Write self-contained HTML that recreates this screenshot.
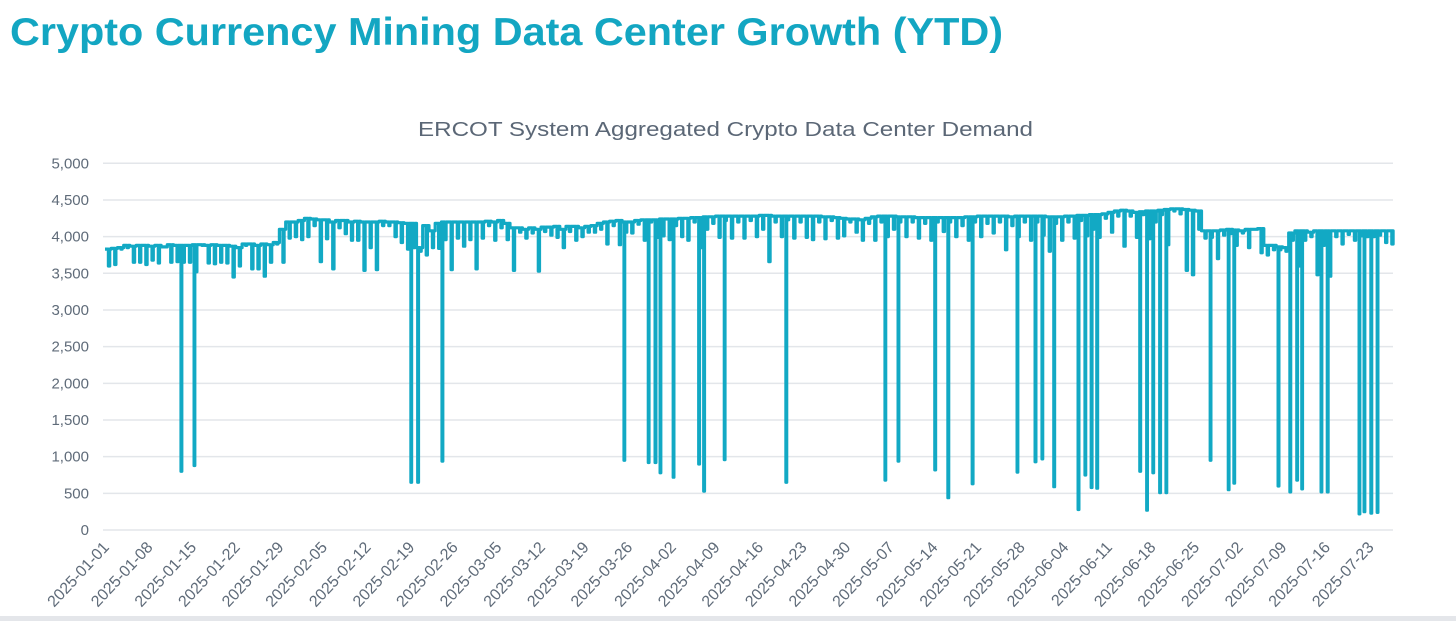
<!DOCTYPE html>
<html><head><meta charset="utf-8"><style>
html,body{margin:0;padding:0;background:#fff;}
svg{display:block;}
text{font-family:"Liberation Sans",Arial,sans-serif;}
</style></head><body>
<svg id="chart" width="1456" height="621" viewBox="0 0 1456 621" xmlns="http://www.w3.org/2000/svg">
<text x="10" y="45" font-size="39" font-weight="bold" fill="#13a6c2" textLength="993" lengthAdjust="spacingAndGlyphs">Crypto Currency Mining Data Center Growth (YTD)</text>
<text x="418" y="136" font-size="20" fill="#5b6776" textLength="615" lengthAdjust="spacingAndGlyphs">ERCOT System Aggregated Crypto Data Center Demand</text>
<g id="grid"></g>
<g id="yaxis"></g>
<g id="xaxis"></g>
<g id="series"></g>
<rect x="0" y="616" width="1456" height="5" fill="#e4e6ea"/>
</svg>
<script>
const yTicks=[0,500,1000,1500,2000,2500,3000,3500,4000,4500,5000];
const yTickLabels=["0","500","1,000","1,500","2,000","2,500","3,000","3,500","4,000","4,500","5,000"];
const xTickLabels=["2025-01-01","2025-01-08","2025-01-15","2025-01-22","2025-01-29","2025-02-05","2025-02-12","2025-02-19","2025-02-26","2025-03-05","2025-03-12","2025-03-19","2025-03-26","2025-04-02","2025-04-09","2025-04-16","2025-04-23","2025-04-30","2025-05-07","2025-05-14","2025-05-21","2025-05-28","2025-06-04","2025-06-11","2025-06-18","2025-06-25","2025-07-02","2025-07-09","2025-07-16","2025-07-23"];
const dailyHigh=[3830,3840,3850,3880,3870,3880,3880,3870,3880,3860,3890,3880,3880,3880,3890,3890,3880,3890,3880,3880,3870,3850,3900,3900,3880,3900,3890,3920,
4100,4200,4200,4220,4250,4240,4230,4230,4200,4220,4220,4200,4210,4200,4200,4200,4210,4200,4200,4190,4180,4180,3850,4150,4080,4180,4200,4200,
4200,4200,4200,4200,4200,4210,4200,4220,4180,4120,4120,4100,4120,4100,4130,4130,4140,4100,4140,4140,4120,4140,4150,4180,4200,4210,4220,4200,
4200,4220,4230,4230,4230,4240,4240,4240,4250,4250,4260,4260,4270,4270,4280,4280,4280,4280,4280,4280,4280,4290,4290,4280,4280,4280,4280,4280,
4280,4280,4280,4270,4270,4260,4250,4240,4240,4230,4250,4270,4280,4280,4280,4270,4270,4270,4260,4260,4260,4260,4260,4260,4260,4260,4270,4270,
4280,4280,4280,4280,4280,4270,4280,4280,4280,4280,4280,4270,4270,4270,4280,4280,4290,4290,4300,4300,4310,4330,4350,4360,4350,4330,4340,4350,
4350,4360,4370,4380,4380,4370,4360,4350,4080,4080,4080,4090,4100,4090,4080,4100,4100,4110,3880,3880,3860,3850,4050,4080,4080,4060,4080,4080,
4080,4080,4080,4080,4080,4080,4080,4080,4080,4080,4080];
const dailyLow=[3600,3620,3830,3850,3650,3650,3620,3680,3640,3860,3650,3660,3650,3650,3520,3880,3640,3630,3650,3640,3450,3600,3880,3560,3560,3460,3650,3900,
3650,3980,4000,3960,4000,4150,3660,3970,3560,4120,4040,3950,3950,3540,3850,3550,4150,4150,4000,3920,3830,3850,3800,3750,3850,3840,3960,3550,
3980,3870,3960,3560,3980,4150,3950,4120,3960,3540,4060,3980,4050,3530,4070,4020,3990,3850,4070,3950,4000,4060,4060,4100,3900,4150,3890,4060,
4050,4170,3950,4200,3990,4010,3960,4150,4000,3950,4200,3850,4100,4180,3990,4220,3980,4200,3980,4220,4000,4100,3660,4200,4000,4230,3980,4200,
3990,3960,4200,3970,4220,3980,4010,4200,4060,3950,4180,3950,4200,4000,4100,4200,4000,4200,3980,4180,3950,4200,4070,4200,4000,4150,3950,4200,
4000,4180,4050,4200,3820,4150,4000,4200,3950,4200,4020,3800,4180,3950,4200,3980,4220,4010,4100,3990,4250,4060,4280,3870,4280,3990,4300,3970,
4200,4300,3890,4350,4310,3540,3480,4100,3980,3990,3700,4020,4040,3880,4050,3850,4100,3780,3750,3820,3820,3800,3950,3600,3950,4000,3480,3880,
3460,4000,3900,4030,3950,4010,4000,4000,4020,3920,3900];
const dipDays=[12.2,14.3,49.1,50.2,54.1,83.3,87.2,88.3,89.1,91.2,95.3,96.1,99.4,109.3,125.2,127.3,133.2,135.3,139.2,146.4,149.3,150.4,152.3,156.2,157.3,158.3,159.2,166.1,167.2,168.2,169.3,170.3,177.4,180.3,181.2,188.3,190.2,191.3,192.1,195.2,196.2,201.3,202.1,203.2,204.2];
const dipValues=[800,880,650,650,940,950,920,920,780,720,900,530,960,650,680,940,820,440,630,790,930,970,590,280,750,580,570,800,270,780,510,510,950,550,640,600,520,680,560,520,520,220,250,230,240];

const NS="http://www.w3.org/2000/svg";
const X0=105,PXD=6.23,Y0=530,PXV=(530-163.3)/5000;
const xs=d=>X0+d*PXD, ys=v=>Y0-v*PXV;
const grid=document.getElementById('grid'),ya=document.getElementById('yaxis'),xa=document.getElementById('xaxis'),ser=document.getElementById('series');
yTicks.forEach((v,i)=>{
  const l=document.createElementNS(NS,'line');
  
  
  l.setAttribute('x1',103);l.setAttribute('x2',1393);l.setAttribute('y1',ys(v));l.setAttribute('y2',ys(v));
  l.setAttribute('stroke','#e3e6ea');l.setAttribute('stroke-width','1.5');grid.appendChild(l);
  const t=document.createElementNS(NS,'text');
  
  
  t.setAttribute('x',89);t.setAttribute('y',ys(v)+5);t.setAttribute('text-anchor','end');
  t.setAttribute('font-size','15');t.setAttribute('fill','#5f6b79');t.textContent=yTickLabels[i];ya.appendChild(t);
});
xTickLabels.forEach((s,i)=>{
  const x=xs(i*7)+5,y=548;
  const t=document.createElementNS(NS,'text');
  
  
  t.setAttribute('x',x);t.setAttribute('y',y);t.setAttribute('text-anchor','end');
  t.setAttribute('font-size','16');t.setAttribute('fill','#5f6b79');
  t.setAttribute('transform',`rotate(-47 ${x} ${y})`);t.textContent=s;xa.appendChild(t);
});
const N=dailyHigh.length;
let bps=[];
for(let d=0;d<N;d++){bps.push(d,d+0.55,d+0.75);}
dipDays.forEach(t=>{bps.push(t,t+0.12);});
bps.sort((a,b)=>a-b);
function valAt(t){
  for(let k=0;k<dipDays.length;k++){if(t>=dipDays[k]-1e-9&&t<dipDays[k]+0.12-1e-9)return dipValues[k];}
  const d=Math.min(N-1,Math.floor(t+1e-9)),f=t-d;
  return (f>=0.55-1e-9&&f<0.75-1e-9)?dailyLow[d]:dailyHigh[d];
}
let pts=[],prev=null;
bps.forEach(b=>{
  const v=valAt(b);
  if(prev!==null)pts.push([xs(b),ys(prev)]);
  pts.push([xs(b),ys(v)]);prev=v;
});
pts.push([xs(N-0.4),ys(prev)]);
const p=document.createElementNS(NS,'path');


p.setAttribute('d','M'+pts.map(q=>q[0].toFixed(1)+','+q[1].toFixed(1)).join('L'));
p.setAttribute('fill','none');p.setAttribute('stroke','#12a9c4');p.setAttribute('stroke-width','3.2');p.setAttribute('stroke-linejoin','round');
ser.appendChild(p);
</script>
</body></html>
